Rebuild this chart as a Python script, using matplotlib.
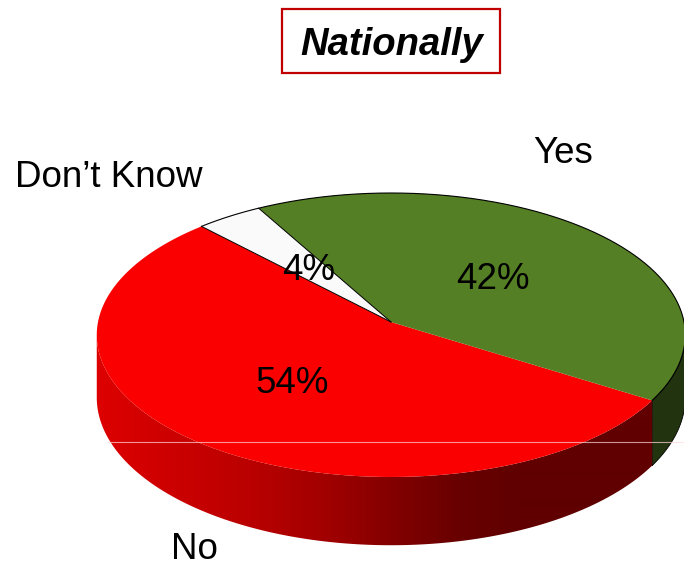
import numpy as np
import matplotlib
matplotlib.use("Agg")
import matplotlib.pyplot as plt
from matplotlib.patches import Polygon, Rectangle

# Survey answers, in counter-clockwise drawing order
categories = ["Yes", "Don\u2019t Know", "No"]
percents = [42, 4, 54]
value_labels = ["42%", "4%", "54%"]

top_colors = ["#557f24", "#fafafa", "#fb0000"]
side_colors = ["#21330f", "#d8d8d8", None]  # None -> red shaded gradient

plt.rcParams["font.family"] = ["Liberation Sans", "DejaVu Sans"]

W, H_PX = 684, 568
fig = plt.figure(figsize=(W / 100, H_PX / 100), dpi=100)
ax = fig.add_axes([0, 0, 1, 1])

# perspective projection of the pie disc (pixel space)
CX, CY = 391.0, 322.0
RX, RY = 293.0, 140.8
PERSP = 0.0915
DEPTH = 62.0
START = -32.0


def project(theta_deg):
    t = np.radians(theta_deg)
    u, v = np.cos(t), np.sin(t)
    s = 1.0 / (1.0 + PERSP * v)
    return CX + RX * u * s, CY - RY * v * s


def drop(theta_deg):
    v = np.sin(np.radians(theta_deg))
    return DEPTH / (1.0 + PERSP * v)


# visible part of the cylinder wall (front half, between silhouette points)
edge = np.degrees(np.arcsin(PERSP))
vis_lo, vis_hi = 180.0 + edge, 360.0 - edge

angles = START + np.concatenate([[0], np.cumsum(percents)]) * 3.6

# red wall shading, dark toward the right
stops_x = [96, 250, 330, 390, 460, 520, 684]
stops_r = [222, 186, 160, 132, 104, 96, 96]
cols = np.arange(W) + 0.5
grad = np.zeros((1, W, 3))
grad[0, :, 0] = np.interp(cols, stops_x, stops_r) / 255.0

# side walls
for i in range(len(percents)):
    a0, a1 = angles[i], angles[i + 1]
    for k in (-360.0, 0.0, 360.0):
        lo, hi = max(a0 + k, vis_lo), min(a1 + k, vis_hi)
        if hi <= lo:
            continue
        th = np.linspace(lo, hi, 200)
        xt, yt = project(th)
        yb = yt + drop(th)
        pts = np.column_stack([np.concatenate([xt, xt[::-1]]),
                               np.concatenate([yt, yb[::-1]])])
        if side_colors[i] is None:
            clip = Polygon(pts, closed=True, transform=ax.transData)
            im = ax.imshow(grad, extent=(0, W, H_PX, 0), aspect="auto",
                           zorder=1, interpolation="bilinear")
            im.set_clip_path(clip)
        else:
            ax.add_patch(Polygon(pts, closed=True, facecolor=side_colors[i],
                                 edgecolor="black", linewidth=0.6, zorder=1))

# top faces
for i in [2, 1, 0]:
    th = np.linspace(angles[i], angles[i + 1], 300)
    xs, ys = project(th)
    pts = np.column_stack([np.concatenate([[CX], xs]),
                           np.concatenate([[CY], ys])])
    ax.add_patch(Polygon(pts, closed=True, facecolor=top_colors[i],
                         edgecolor="none", zorder=3))

# dark outline around the rim of the Yes and Don't Know slices and their shared edges
th = np.linspace(angles[0], angles[2], 400)
xs, ys = project(th)
ax.plot(xs, ys, color="black", linewidth=0.8, zorder=4)
for a in (angles[1], angles[2]):
    xe, ye = project(np.array([a]))
    ax.plot([CX, xe[0]], [CY, ye[0]], color="black", linewidth=0.7, zorder=4)

# faint scan line across the wall
ax.plot([107, 684], [441.5, 441.5], color=(1.0, 0.85, 0.85), alpha=0.7,
        linewidth=0.8, zorder=4)

fs = 26.5
# category labels
ax.text(563, 163, categories[0], fontsize=fs, ha="center", va="baseline", zorder=5)
ax.text(109, 187, categories[1], fontsize=fs, ha="center", va="baseline", zorder=5)
ax.text(194, 559, categories[2], fontsize=fs, ha="center", va="baseline", zorder=5)

# value labels
ax.text(493, 289, value_labels[0], fontsize=fs, ha="center", va="baseline", zorder=5)
ax.text(309, 280, value_labels[1], fontsize=fs, ha="center", va="baseline", zorder=5)
ax.text(292, 393, value_labels[2], fontsize=fs, ha="center", va="baseline", zorder=5)

# boxed title
ax.add_patch(Rectangle((282, 9), 218, 64, facecolor="white", edgecolor="#c00000",
                       linewidth=1.6, zorder=5))
ax.text(392, 55, "Nationally", fontsize=27.5, fontweight="bold", fontstyle="italic",
        ha="center", va="baseline", zorder=6)

ax.set_xlim(0, W)
ax.set_ylim(H_PX, 0)
ax.axis("off")
fig.savefig("out.png", dpi=100, facecolor="white")
